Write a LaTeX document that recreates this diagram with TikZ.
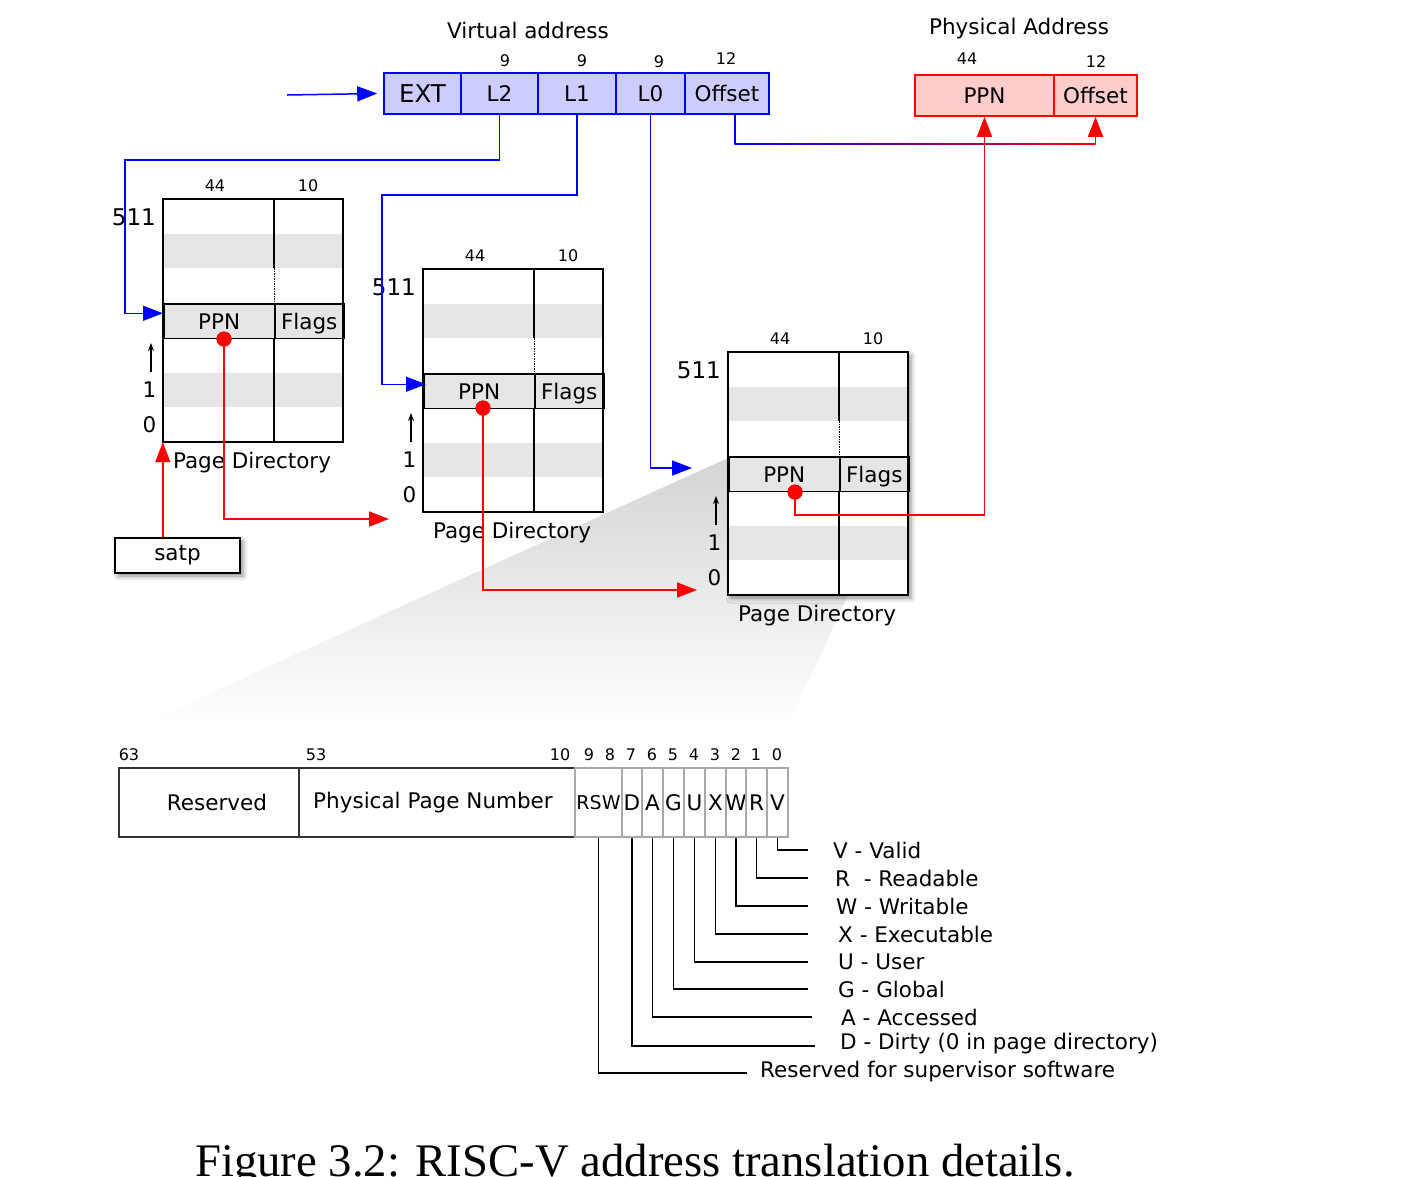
\documentclass[tikz,border=0pt]{standalone}
\usepackage{fontspec}
\setmainfont{DejaVu Sans}
\newfontfamily\capfont{Liberation Serif}
\usetikzlibrary{arrows.meta,shadows.blur,calc}
\definecolor{vafill}{HTML}{CCCCFF}
\definecolor{pafill}{HTML}{FFCCCC}
\definecolor{rowgray}{HTML}{E5E5E5}
\definecolor{fieldgray}{HTML}{A8A8A8}
\tikzset{
  txt/.style={font=\fontsize{21.5}{25}\selectfont, inner sep=0pt},
  big/.style={font=\fontsize{23}{27}\selectfont, inner sep=0pt},
  small/.style={font=\fontsize{16}{19}\selectfont, inner sep=0pt},
  vabox/.style={draw=blue, fill=vafill, line width=1.6pt, minimum height=41pt, inner sep=0pt, text height=16pt, text depth=0pt, font=\fontsize{21.5}{25}\selectfont},
  pabox/.style={draw=red, fill=pafill, line width=1.6pt, minimum height=41pt, inner sep=0pt, text height=16pt, text depth=0pt, font=\fontsize{21.5}{25}\selectfont},
  blueconn/.style={draw=blue, line width=1.5pt, -{Triangle[length=20pt,width=15pt]}},
  redconn/.style={draw=red, line width=1.5pt, -{Triangle[length=20pt,width=15pt]}},
  pdback/.style={fill=white, minimum width=180pt, minimum height=243pt, inner sep=0pt},
  pdrow/.style={draw=black, fill=rowgray, line width=1.5pt, minimum height=34.8pt, inner sep=0pt, text height=16pt, text depth=0pt, font=\fontsize{21.5}{25}\selectfont},
  pdline/.style={draw=black, line width=1.5pt},
  pdborder/.style={draw=black, line width=2pt},
  idxarrow/.style={draw=black, line width=1.3pt, -{Stealth[length=8pt,width=6pt]}},
  dot/.style={circle, fill=red, minimum size=15pt, inner sep=0pt},
  mainfield/.style={draw=black!80, line width=1.5pt, minimum height=69pt, inner sep=0pt},
  field/.style={draw=fieldgray, line width=1.5pt, minimum height=69pt, inner sep=0pt},
  legline/.style={draw=black, line width=1.5pt},
  pics/pagedir/.style={code={
    \node[pdback,#1] (-box) at (90,121.5) {};
    \fill[rowgray] (0,34.7) rectangle (180,69.4);
    \fill[rowgray] (0,173.6) rectangle (180,208.3);
    \node[pdrow, minimum width=111pt, anchor=north west] (-ppn) at (0,104.1) {PPN};
    \node[pdrow, minimum width=69pt, anchor=north west] (-flags) at (111,104.1) {Flags};
    \draw[pdline] (111,0) -- (111,69.4);
    \draw[pdline, densely dotted, line width=1pt] (111,69.4) -- (111,104.1);
    \draw[pdline] (111,138.9) -- (111,243);
    \draw[pdborder] (0,0) rectangle (180,243);
    \node[small] (-w44) at (52,-13) {44};
    \node[small] (-w10) at (145,-13) {10};
    \node[big, anchor=east] (-top) at (-7,18) {511};
    \node[txt] (-one) at (-13.5,191) {1};
    \node[txt] (-zero) at (-13.5,226) {0};
    \draw[idxarrow] (-12,173) -- (-12,144);
    \node[txt] (-title) at (89,264) {Page Directory};
  }},
  pics/pagedir/.default={}
}
\begin{document}
\begin{tikzpicture}[x=1pt,y=-1pt]
\useasboundingbox (0,0) rectangle (1402,1176);

% zoom wedge
\shade[top color=black!17, bottom color=white] (728,458) -- (905,470) -- (790,722) -- (140,725) -- cycle;

% virtual address
\node[txt] (vatitle) at (528,30) {Virtual address};
\node[vabox, minimum width=77pt, text height=18pt, font=\fontsize{24.5}{28}\selectfont] (ext) at (422.5,93.5) {EXT};
\node[vabox, minimum width=77pt] (l2) at (499.5,93.5) {L2};
\node[vabox, minimum width=78pt] (l1) at (577,93.5) {L1};
\node[vabox, minimum width=69pt] (l0) at (650.5,93.5) {L0};
\node[vabox, minimum width=84pt] (off) at (727,93.5) {Offset};
\node[small] (b9a) at (505,61) {9};
\node[small] (b9b) at (582,61) {9};
\node[small] (b9c) at (659,62) {9};
\node[small] (b12a) at (726,59) {12};
\coordinate (vin) at (287,95);
\draw[blueconn] (vin) -- ([xshift=-6pt]ext.west);

% physical address
\node[txt] (patitle) at (1019,29) {Physical Address};
\node[pabox, minimum width=139pt] (ppn) at (984.5,95.5) {PPN};
\node[pabox, minimum width=83pt] (poff) at (1095.5,95.5) {Offset};
\node[small] (b44) at (967,59) {44};
\node[small] (b12b) at (1096,62) {12};

% page directories
\pic (pd1) at (163,199) {pagedir};
\pic (pd2) at (423,269) {pagedir};
\pic (pd3) at (728,352) {pagedir={blur shadow={shadow xshift=3pt,shadow yshift=-3pt,shadow blur radius=5pt,shadow opacity=45}}};

% satp
\node[draw=black, line width=1.5pt, fill=white, minimum width=125pt, minimum height=35pt, inner sep=0pt,
      font=\fontsize{21.5}{25}\selectfont, blur shadow={shadow xshift=3pt,shadow yshift=-3pt,shadow blur radius=5pt,shadow opacity=45}] (satp) at (177.5,555.5) {satp};
\draw[redconn] (satp.north -| pd1-box.south west) -- (pd1-box.south west);

% blue index connectors
\coordinate (b1c) at (125,160);
\draw[blueconn] (l2.south) |- (b1c) |- ([yshift=8pt]pd1-ppn.west);
\coordinate (b2c) at (382,195);
\draw[blueconn] (l1.south) |- (b2c) |- ([yshift=7pt,xshift=3pt]pd2-ppn.west);
\coordinate (b3end) at (692,468);
\draw[blueconn] (l0.south) |- (b3end);

% red PPN connectors
\node[dot] (d1) at (224,339) {};
\node[dot] (d2) at (483,408) {};
\node[dot] (d3) at (795,492) {};
\coordinate (r1end) at (389,519);
\coordinate (r2end) at (697,590);
\coordinate (r3turn) at (984.5,515);
\draw[redconn] (d1.center) |- (r1end);
\draw[redconn] (d2.center) |- (r2end);
\draw[redconn] (d3.center) |- (r3turn) -- (ppn.south);
\node[dot] (d1top) at (d1) {};
\node[dot] (d2top) at (d2) {};
\node[dot] (d3top) at (d3) {};

% offset connector
\coordinate (o1) at (735,144);
\coordinate (o2) at (poff.south |- o1);
\draw[blue, line width=1.5pt] ([xshift=8pt]off.south) -- (o1);
\shade[left color=blue, right color=red] (734.25,143.25) rectangle (1095.5,144.75);
\draw[redconn] (o2) -- (poff.south);

% PTE layout
\node[mainfield, minimum width=180pt, label={[txt,xshift=8pt]center:Reserved}] (fres) at (209,802.5) {};
\node[mainfield, minimum width=276pt, label={[txt,xshift=-4pt]center:Physical Page Number}] (fppn) at (437,802.5) {};
\node[field, minimum width=47pt, label={[inner sep=0pt,font=\fontsize{19}{23}\selectfont]center:RSW}] (frsw) at (598.5,802.5) {};
\node[field, minimum width=20pt, label={[txt]center:D}] (fd) at (632,802.5) {};
\node[field, minimum width=21pt, label={[txt]center:A}] (fa) at (652.5,802.5) {};
\node[field, minimum width=21pt, label={[txt]center:G}] (fg) at (673.5,802.5) {};
\node[field, minimum width=21pt, label={[txt]center:U}] (fu) at (694.5,802.5) {};
\node[field, minimum width=21pt, label={[txt]center:X}] (fx) at (715.5,802.5) {};
\node[field, minimum width=20pt, label={[txt]center:W}] (fw) at (736,802.5) {};
\node[field, minimum width=21pt, label={[txt]center:R}] (fr) at (756.5,802.5) {};
\node[field, minimum width=21pt, label={[txt]center:V}] (fv) at (777.5,802.5) {};

\node[small] (n63) at (129,755) {63};
\node[small] (n53) at (316,755) {53};
\node[small] (n10) at (560,755) {10};
\node[small] (n9) at (589,755) {9};
\node[small] (n8) at (610,755) {8};
\node[small] (n7) at (631,755) {7};
\node[small] (n6) at (652,755) {6};
\node[small] (n5) at (673,755) {5};
\node[small] (n4) at (694,755) {4};
\node[small] (n3) at (715,755) {3};
\node[small] (n2) at (736,755) {2};
\node[small] (n1) at (756,755) {1};
\node[small] (n0) at (777,755) {0};

% legend
\node[txt, anchor=west] (lv) at (833,850) {V - Valid};
\node[txt, anchor=west] (lr) at (835,878) {R~ - Readable};
\node[txt, anchor=west] (lw) at (836,906) {W - Writable};
\node[txt, anchor=west] (lx) at (838,934) {X - Executable};
\node[txt, anchor=west] (lu) at (838,962) {U - User};
\node[txt, anchor=west] (lg) at (838,989) {G - Global};
\node[txt, anchor=west] (la) at (841,1017) {A - Accessed};
\node[txt, anchor=west] (ld) at (840,1044) {D - Dirty (0 in page directory)};
\node[txt, anchor=west] (lrsw) at (760,1072) {Reserved for supervisor software};
\draw[legline] (fv.south) |- ([xshift=-25pt]lv.west);
\draw[legline] (fr.south) |- ([xshift=-27pt]lr.west);
\draw[legline] (fw.south) |- ([xshift=-28pt]lw.west);
\draw[legline] (fx.south) |- ([xshift=-30pt]lx.west);
\draw[legline] (fu.south) |- ([xshift=-30pt]lu.west);
\draw[legline] (fg.south) |- ([xshift=-30pt]lg.west);
\draw[legline] (fa.south) |- ([xshift=-29pt]la.west);
\draw[legline] (fd.south) |- ([xshift=-25pt,yshift=-2pt]ld.west);
\draw[legline] (frsw.south) |- ([xshift=-13pt,yshift=-1pt]lrsw.west);

% caption (cut at the lower edge, as in the reference)
\node[font=\capfont\fontsize{46.7}{50}\selectfont, inner sep=0pt, anchor=base] (caption) at (635,1176) {Figure 3.2: RISC-V address translation details.};
\end{tikzpicture}
\end{document}
